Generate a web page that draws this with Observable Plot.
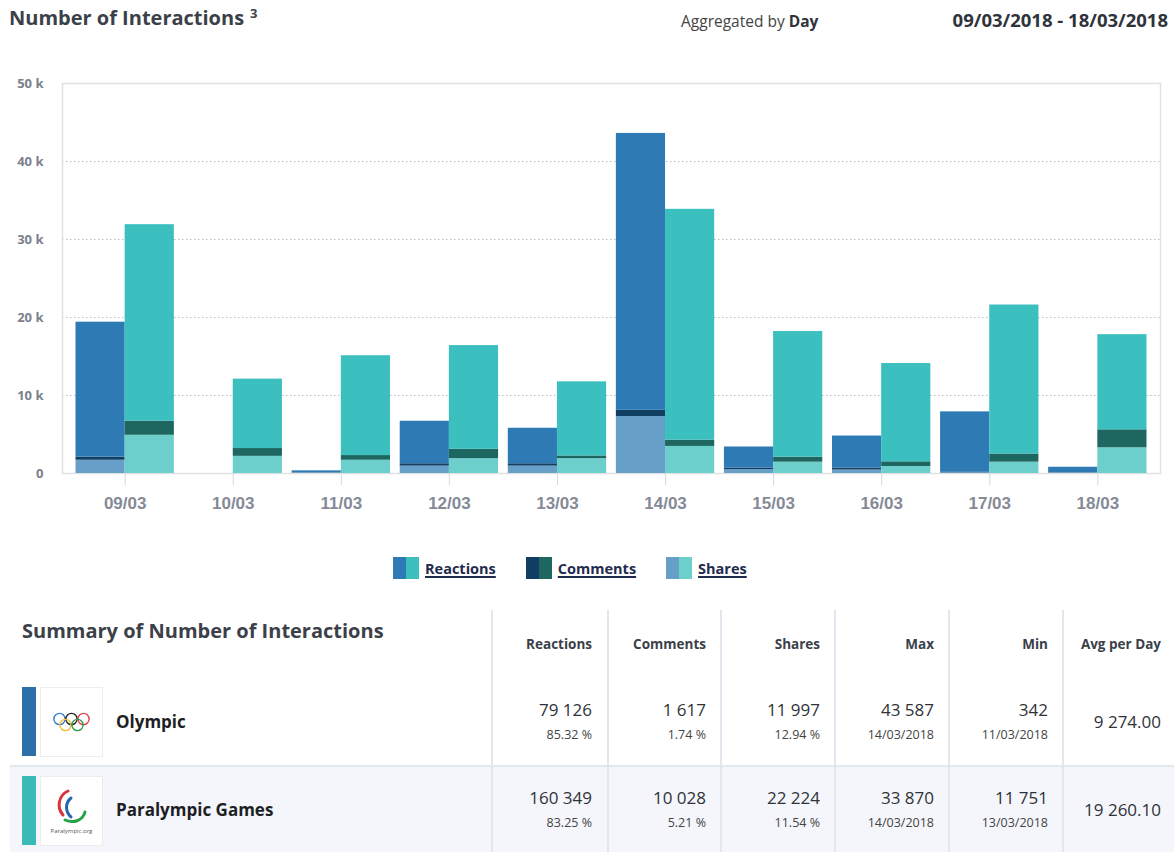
<!DOCTYPE html>
<html>
<head>
<meta charset="utf-8">
<script src="https://cdn.jsdelivr.net/npm/d3@7"></script>
<script src="https://cdn.jsdelivr.net/npm/@observablehq/plot@0.6"></script>
<style>
  html, body { margin: 0; padding: 0; background: #fff; }
  body { width: 1174px; height: 852px; position: relative; overflow: hidden; font-family: "Open Sans", sans-serif; color: #3a3f4a; }
  .abs { position: absolute; white-space: nowrap; }
  #title { left: 9px; top: 4px; font-size: 20px; font-weight: 700; color: #3b4049; }
  #title sup { font-size: 13px; vertical-align: 7px; margin-left: 6px; }
  #agg { left: 681px; top: 10px; font-size: 15.5px; color: #444; }
  #agg b { color: #2f333b; }
  #range { right: 6px; top: 7px; font-size: 18.5px; font-weight: 700; color: #2f333b; }
  #chart { position: absolute; left: 0; top: 60px; }
  #chart g[aria-label="x-axis tick"] path { stroke: #d6d8dc; }
  #legend { left: 393px; top: 557px; display: flex; align-items: center; font-size: 14.5px; font-weight: 700; }
  .item { display: flex; align-items: center; margin-right: 30px; }
  .sw { display: flex; width: 26px; height: 22px; margin-right: 6px; }
  .sw span { flex: 1; }
  .item a { color: #1f2b4e; text-decoration: underline; text-decoration-thickness: 1.5px; text-underline-offset: 2px; }
  #stitle { left: 22px; top: 617px; font-size: 20px; font-weight: 700; color: #3b4049; }
  .vsep { position: absolute; top: 610px; height: 242px; width: 1.5px; background: #e1e6ef; }
  .hdr { position: absolute; top: 635px; font-size: 13.5px; font-weight: 700; color: #3a3f4a; text-align: right; }
  .row2bg { position: absolute; left: 10px; top: 766px; width: 1164px; height: 86px; background: #f4f6fb; }
  .hsep { position: absolute; left: 10px; top: 765px; width: 1164px; height: 1.5px; background: #e3e7ef; }
  .cbar { position: absolute; left: 22px; width: 14px; }
  .logo { position: absolute; left: 40px; width: 61px; height: 68px; border: 1px solid #ececec; background: #fff; }
  .name { position: absolute; left: 116px; font-size: 17px; font-weight: 700; color: #1d1f24; }
  .val { position: absolute; text-align: right; font-size: 17px; color: #2f3238; line-height: 1; }
  .pct { position: absolute; text-align: right; font-size: 12.5px; color: #444; line-height: 1; }
</style>
</head>
<body>
<div id="title" class="abs">Number of Interactions<sup>3</sup></div>
<div id="agg" class="abs">Aggregated by <b>Day</b></div>
<div id="range" class="abs">09/03/2018 - 18/03/2018</div>
<div id="chart"></div>
<div id="legend" class="abs"></div>
<div id="table"></div>

<script>
// ---------- data ----------
const days = ["09/03", "10/03", "11/03", "12/03", "13/03", "14/03", "15/03", "16/03", "17/03", "18/03"];
const teams = ["Olympic", "Paralympic Games"];
const metrics = ["Shares", "Comments", "Reactions"]; // stacking order, bottom to top
const legendMetrics = ["Reactions", "Comments", "Shares"];

const olympicReactions = [17300, 0, 250, 5450, 4550, 35500, 2700, 4100, 7750, 700];
const olympicComments  = [400, 0, 20, 300, 300, 800, 200, 250, 50, 20];
const olympicShares    = [1700, 0, 70, 950, 950, 7300, 500, 450, 100, 80];

const paraReactions = [25200, 8900, 12800, 13300, 9500, 29600, 16100, 12600, 19100, 12200];
const paraComments  = [1800, 1000, 600, 1200, 350, 800, 650, 600, 1050, 2300];
const paraShares    = [4900, 2200, 1700, 1900, 1900, 3470, 1450, 900, 1450, 3300];

const yTicks = [0, 10000, 20000, 30000, 40000, 50000];
const gridTicks = [10000, 20000, 30000, 40000];

// summary table
const sumColumns = ["Reactions", "Comments", "Shares", "Max", "Min", "Avg per Day"];
const olympicSummary = [["79 126", "85.32 %"], ["1 617", "1.74 %"], ["11 997", "12.94 %"], ["43 587", "14/03/2018"], ["342", "11/03/2018"], ["9 274.00", ""]];
const paraSummary    = [["160 349", "83.25 %"], ["10 028", "5.21 %"], ["22 224", "11.54 %"], ["33 870", "14/03/2018"], ["11 751", "13/03/2018"], ["19 260.10", ""]];

// ---------- colours ----------
const palette = {
  "Olympic|Reactions": "#2e7ab5",
  "Olympic|Comments": "#103f63",
  "Olympic|Shares": "#66a0c9",
  "Paralympic Games|Reactions": "#3cbfbf",
  "Paralympic Games|Comments": "#1d6760",
  "Paralympic Games|Shares": "#6ccfcc"
};

// ---------- build table for Plot ----------
const series = {
  "Olympic": {Reactions: olympicReactions, Comments: olympicComments, Shares: olympicShares},
  "Paralympic Games": {Reactions: paraReactions, Comments: paraComments, Shares: paraShares}
};
const rows = [];
days.forEach((day, i) => {
  teams.forEach(team => {
    metrics.forEach(metric => {
      rows.push({day, i, team, metric, key: team + "|" + metric, value: series[team][metric][i]});
    });
  });
});

const half = 0.455;
const chart = Plot.plot({
  width: 1174,
  height: 470,
  marginTop: 23,
  marginBottom: 57,
  marginLeft: 62,
  marginRight: 14,
  style: {fontFamily: "Open Sans, sans-serif", background: "transparent"},
  x: {domain: [-0.58, days.length - 1 + 0.58], axis: null},
  y: {domain: [0, 50000], axis: null},
  color: {domain: Object.keys(palette), range: Object.values(palette)},
  marks: [
    Plot.ruleY(gridTicks, {stroke: "#bdbdbd", strokeDasharray: "1.5,2.5", strokeWidth: 1}),
    Plot.frame({stroke: "#e1e1e1", strokeWidth: 1.5}),
    Plot.rectY(rows, Plot.stackY({
      x1: d => d.team === teams[0] ? d.i - half : d.i,
      x2: d => d.team === teams[0] ? d.i : d.i + half,
      y: "value",
      fill: "key"
    })),
    Plot.axisY(yTicks, {
      label: null,
      tickSize: 0,
      tickPadding: 19,
      tickFormat: d => d === 0 ? "0" : `${d / 1000} k`,
      fontSize: 13,
      fontWeight: "bold",
      color: "#7b808c"
    }),
    Plot.axisX(days.map((d, i) => i), {
      label: null,
      tickSize: 12,
      tickPadding: 11,
      tickFormat: i => days[i],
      fontSize: 17,
      fontWeight: "bold",
      fontFamily: "Liberation Sans, Arial, sans-serif",
      color: "#858a96"
    })
  ]
});
document.getElementById("chart").appendChild(chart);

// ---------- legend ----------
const legend = document.getElementById("legend");
legendMetrics.forEach(m => {
  const item = document.createElement("div");
  item.className = "item";
  item.innerHTML = `<div class="sw"><span style="background:${palette["Olympic|" + m]}"></span><span style="background:${palette["Paralympic Games|" + m]}"></span></div><a>${m}</a>`;
  legend.appendChild(item);
});

// ---------- summary table ----------
const table = document.getElementById("table");
const seps = [491, 607, 720, 834, 948, 1062];
const rightEdges = [592, 706, 820, 934, 1048, 1161];
let html = "";
html += `<div class="row2bg"></div><div class="hsep"></div>`;
html += `<div id="stitle" class="abs">Summary of Number of Interactions</div>`;
seps.forEach(x => html += `<div class="vsep" style="left:${x}px"></div>`);
sumColumns.forEach((c, k) => {
  html += `<div class="hdr" style="right:${1174 - rightEdges[k]}px">${c}</div>`;
});
const rowDefs = [
  {name: teams[0], data: olympicSummary, top: 687, center: 722, color: "#2d6fa8"},
  {name: teams[1], data: paraSummary, top: 776, center: 810, color: "#38bab7"}
];
rowDefs.forEach((r, ri) => {
  html += `<div class="cbar" style="top:${r.top}px;height:69px;background:${r.color}"></div>`;
  html += `<div class="logo" style="top:${r.top}px">${ri === 0 ? olympicLogo() : paraLogo()}</div>`;
  html += `<div class="name" style="top:${r.center - 12}px">${r.name}</div>`;
  r.data.forEach((v, k) => {
    const right = 1174 - rightEdges[k];
    if (v[1] === "") {
      html += `<div class="val" style="right:${right}px;top:${r.center - 9}px">${v[0]}</div>`;
    } else {
      html += `<div class="val" style="right:${right}px;top:${r.center - 21}px">${v[0]}</div>`;
      html += `<div class="pct" style="right:${right}px;top:${r.center + 7}px">${v[1]}</div>`;
    }
  });
});
table.innerHTML = html;

function olympicLogo() {
  const rings = [[-12, -3, "#2f7bd0"], [0, -3, "#222"], [12, -3, "#e0424a"], [-6, 3, "#f2c12e"], [6, 3, "#2d9a4c"]];
  return `<svg width="61" height="68" viewBox="-30.5 -34 61 68">` +
    rings.map(([x, y, c]) => `<circle cx="${x}" cy="${y}" r="5.6" fill="none" stroke="${c}" stroke-width="1.4"/>`).join("") +
    `</svg>`;
}
function paraLogo() {
  return `<svg width="61" height="68" viewBox="0 0 61 68">
    <path d="M27 14 C18 18 15 30 22 38" fill="none" stroke="#d8343c" stroke-width="3" stroke-linecap="round"/>
    <path d="M30 21 C24 26 24 34 30 40" fill="none" stroke="#2466b0" stroke-width="3" stroke-linecap="round"/>
    <path d="M24 43 C33 47 42 43 44 35" fill="none" stroke="#27a24b" stroke-width="3" stroke-linecap="round"/>
    <text x="30.5" y="56" text-anchor="middle" font-size="6" fill="#555" font-family="Open Sans">Paralympic.org</text>
  </svg>`;
}
</script>
</body>
</html>
